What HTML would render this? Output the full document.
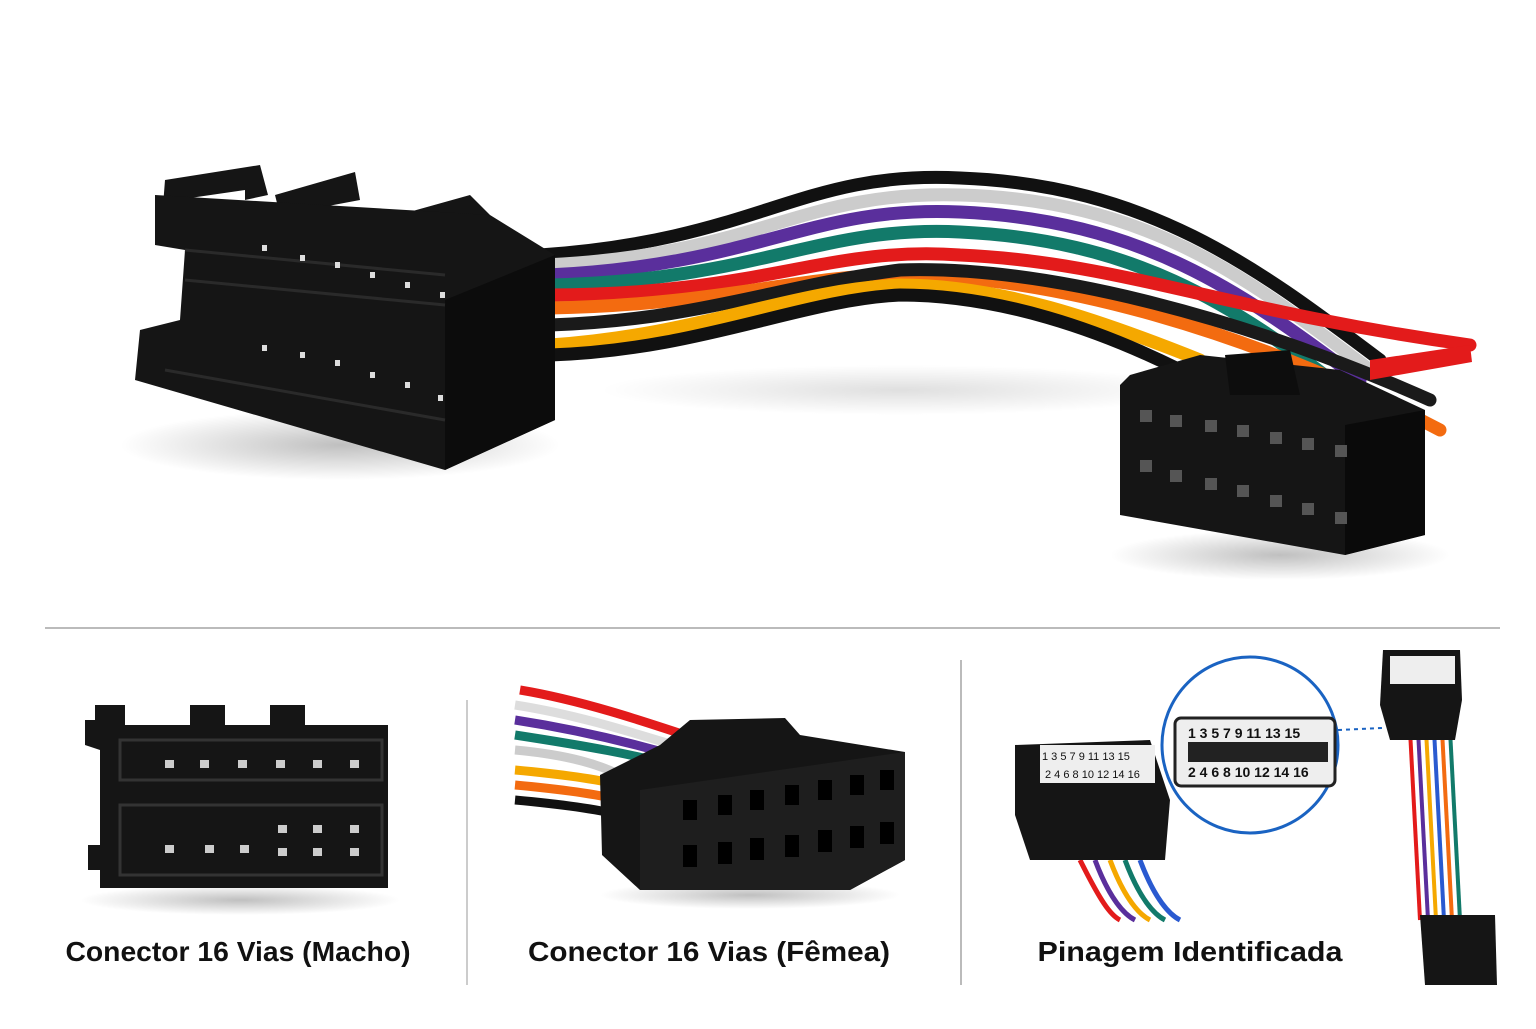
<!DOCTYPE html>
<html><head><meta charset="utf-8"><style>
html,body{margin:0;padding:0;background:#fff}
body{width:1536px;height:1024px;overflow:hidden;font-family:"Liberation Sans",sans-serif}
</style></head><body>
<svg width="1536" height="1024" viewBox="0 0 1536 1024" xmlns="http://www.w3.org/2000/svg">
<rect width="1536" height="1024" fill="#fff"/>
<defs>
<radialGradient id="sh" cx="50%" cy="50%" r="50%"><stop offset="0" stop-color="#000" stop-opacity=".25"/><stop offset="1" stop-color="#000" stop-opacity="0"/></radialGradient>
</defs>
<ellipse cx="340" cy="445" rx="220" ry="35" fill="url(#sh)"/>
<ellipse cx="1280" cy="555" rx="170" ry="25" fill="url(#sh)"/>
<ellipse cx="900" cy="390" rx="300" ry="25" fill="url(#sh)" opacity=".5"/>
<g fill="none" stroke-width="13" stroke-linecap="round">
<path d="M540 255 C760 240 800 170 960 178 C1150 185 1260 270 1380 360" stroke="#111"/>
<path d="M545 265 C760 255 800 190 960 195 C1150 200 1250 280 1370 370" stroke="#ccc"/>
<path d="M548 275 C760 265 810 205 960 212 C1140 220 1240 290 1360 380" stroke="#5a2f9c"/>
<path d="M550 285 C760 280 820 225 960 232 C1130 240 1230 300 1350 395" stroke="#127a6a"/>
<path d="M550 295 C760 295 830 245 960 255 C1120 262 1220 310 1470 345" stroke="#e31b1b"/>
<path d="M550 308 C720 305 800 275 900 275 C1050 275 1250 330 1440 430" stroke="#f36b10"/>
<path d="M550 325 C700 320 780 285 900 270 C1050 265 1250 320 1430 400" stroke="#1a1a1a"/>
<path d="M550 345 C700 335 790 290 900 285 C1000 285 1100 320 1200 360" stroke="#f5a800"/>
<path d="M550 355 C700 350 800 300 900 295 C1000 295 1100 330 1180 370" stroke="#111"/>
</g>
<path d="M1370 360 L1470 345 L1472 362 L1370 380Z" fill="#e31b1b"/>
<g fill="#151515">
<path d="M165 180 L260 165 L268 195 L245 200 L245 190 L190 198 L185 240 L160 245Z"/>
<path d="M275 195 L355 172 L360 200 L280 215Z"/>
<path d="M345 230 L470 195 L490 215 L490 240 L350 255Z"/>
<path d="M155 195 L490 215 L555 255 L555 420 L445 470 L135 380 L140 330 L180 320 L185 250 L155 245Z"/>
<path d="M445 300 L555 255 L555 420 L445 470Z" fill="#0c0c0c"/>
</g>
<g stroke="#2a2a2a" stroke-width="3" fill="none"><path d="M185 280 L445 305"/><path d="M185 250 L445 275"/><path d="M165 370 L445 420"/></g>
<g fill="#ddd">
<rect x="262" y="245" width="5" height="6"/><rect x="300" y="255" width="5" height="6"/><rect x="335" y="262" width="5" height="6"/><rect x="370" y="272" width="5" height="6"/><rect x="405" y="282" width="5" height="6"/><rect x="440" y="292" width="5" height="6"/>
<rect x="262" y="345" width="5" height="6"/><rect x="300" y="352" width="5" height="6"/><rect x="335" y="360" width="5" height="6"/><rect x="370" y="372" width="5" height="6"/><rect x="405" y="382" width="5" height="6"/><rect x="438" y="395" width="5" height="6"/>
</g>
<g fill="#151515">
<path d="M1130 375 L1200 355 L1340 370 L1425 410 L1425 535 L1345 555 L1120 515 L1120 385Z"/>
<path d="M1225 355 L1290 350 L1300 395 L1230 395Z" fill="#0d0d0d"/>
<path d="M1345 425 L1425 410 L1425 535 L1345 555Z" fill="#0a0a0a"/>
</g>
<g fill="#555">
<rect x="1140" y="410" width="12" height="12"/><rect x="1170" y="415" width="12" height="12"/><rect x="1205" y="420" width="12" height="12"/><rect x="1237" y="425" width="12" height="12"/><rect x="1270" y="432" width="12" height="12"/><rect x="1302" y="438" width="12" height="12"/><rect x="1335" y="445" width="12" height="12"/>
<rect x="1140" y="460" width="12" height="12"/><rect x="1170" y="470" width="12" height="12"/><rect x="1205" y="478" width="12" height="12"/><rect x="1237" y="485" width="12" height="12"/><rect x="1270" y="495" width="12" height="12"/><rect x="1302" y="503" width="12" height="12"/><rect x="1335" y="512" width="12" height="12"/>
</g>
<line x1="45" y1="628" x2="1500" y2="628" stroke="#bbb" stroke-width="2"/>
<line x1="467" y1="700" x2="467" y2="985" stroke="#ccc" stroke-width="2"/>
<line x1="961" y1="660" x2="961" y2="985" stroke="#bbb" stroke-width="2"/>
<ellipse cx="240" cy="900" rx="160" ry="15" fill="url(#sh)"/>
<g fill="#151515">
<path d="M95 705 L125 705 L125 725 L190 725 L190 705 L225 705 L225 725 L270 725 L270 705 L305 705 L305 725 L388 725 L388 888 L100 888 L100 870 L88 870 L88 845 L100 845 L100 750 L85 745 L85 720 L95 720Z"/>
</g>
<g stroke="#333" stroke-width="3" fill="none"><rect x="120" y="740" width="262" height="40"/><rect x="120" y="805" width="262" height="70"/></g>
<g fill="#ccc">
<rect x="165" y="760" width="9" height="8"/><rect x="200" y="760" width="9" height="8"/><rect x="238" y="760" width="9" height="8"/><rect x="276" y="760" width="9" height="8"/><rect x="313" y="760" width="9" height="8"/><rect x="350" y="760" width="9" height="8"/>
<rect x="165" y="845" width="9" height="8"/><rect x="205" y="845" width="9" height="8"/><rect x="240" y="845" width="9" height="8"/><rect x="278" y="825" width="9" height="8"/><rect x="313" y="825" width="9" height="8"/><rect x="350" y="825" width="9" height="8"/>
<rect x="278" y="848" width="9" height="8"/><rect x="313" y="848" width="9" height="8"/><rect x="350" y="848" width="9" height="8"/>
</g>
<g fill="none" stroke-width="9">
<path d="M520 690 C580 700 640 720 700 740" stroke="#e31b1b"/>
<path d="M515 705 C580 715 640 735 690 750" stroke="#ddd"/>
<path d="M515 720 C580 730 640 745 690 760" stroke="#5a2f9c"/>
<path d="M515 735 C580 745 640 755 690 770" stroke="#127a6a"/>
<path d="M515 750 C570 755 600 765 620 775" stroke="#ccc"/>
<path d="M515 770 C570 775 600 780 620 785" stroke="#f5a800"/>
<path d="M515 785 C570 790 600 795 620 800" stroke="#f36b10"/>
<path d="M515 800 C570 805 600 810 620 815" stroke="#111"/>
</g>
<ellipse cx="750" cy="895" rx="150" ry="14" fill="url(#sh)"/>
<g fill="#151515">
<path d="M600 775 L660 745 L690 720 L785 718 L800 735 L905 752 L905 860 L850 890 L640 890 L602 855Z"/>
<path d="M640 790 L905 752 L905 860 L850 890 L640 890Z" fill="#1e1e1e"/>
</g>
<g fill="#000">
<rect x="683" y="800" width="14" height="20"/><rect x="718" y="795" width="14" height="20"/><rect x="750" y="790" width="14" height="20"/><rect x="785" y="785" width="14" height="20"/><rect x="818" y="780" width="14" height="20"/><rect x="850" y="775" width="14" height="20"/><rect x="880" y="770" width="14" height="20"/>
<rect x="683" y="845" width="14" height="22"/><rect x="718" y="842" width="14" height="22"/><rect x="750" y="838" width="14" height="22"/><rect x="785" y="835" width="14" height="22"/><rect x="818" y="830" width="14" height="22"/><rect x="850" y="826" width="14" height="22"/><rect x="880" y="822" width="14" height="22"/>
</g>
<g fill="none" stroke-width="5">
<path d="M1080 860 C1100 900 1110 915 1120 920" stroke="#e31b1b"/>
<path d="M1095 860 C1110 900 1125 915 1135 920" stroke="#5a2f9c"/>
<path d="M1110 860 C1125 900 1140 915 1150 920" stroke="#f5a800"/>
<path d="M1125 860 C1140 900 1155 915 1165 920" stroke="#127a6a"/>
<path d="M1140 860 C1155 900 1170 915 1180 920" stroke="#2a5ad0"/>
</g>
<path d="M1015 745 L1150 740 L1170 800 L1165 860 L1030 860 L1020 830 L1015 815Z" fill="#151515"/>
<rect x="1040" y="745" width="115" height="38" fill="#eee"/>
<text x="1042" y="760" font-size="11" fill="#111">1 3 5 7 9 11 13 15</text>
<text x="1045" y="778" font-size="11" fill="#111">2 4 6 8 10 12 14 16</text>
<circle cx="1250" cy="745" r="88" fill="#fff" stroke="#1a63c2" stroke-width="3"/>
<rect x="1175" y="718" width="160" height="68" rx="6" fill="#eee" stroke="#222" stroke-width="3"/>
<text x="1188" y="738" font-size="14" font-weight="bold" fill="#111">1 3 5 7 9 11 13 15</text>
<g fill="#222"><rect x="1188" y="742" width="140" height="20"/></g>
<text x="1188" y="777" font-size="14" font-weight="bold" fill="#111">2 4 6 8 10 12 14 16</text>
<line x1="1338" y1="730" x2="1382" y2="728" stroke="#1a63c2" stroke-width="2" stroke-dasharray="4 4"/>
<g fill="none" stroke-width="4">
<path d="M1410 730 L1420 920" stroke="#e31b1b"/><path d="M1418 730 L1428 920" stroke="#5a2f9c"/><path d="M1426 730 L1436 920" stroke="#f5a800"/><path d="M1434 730 L1444 920" stroke="#2a5ad0"/><path d="M1442 730 L1452 920" stroke="#f36b10"/><path d="M1450 730 L1460 920" stroke="#127a6a"/>
</g>
<path d="M1383 650 L1460 650 L1462 700 L1455 740 L1390 740 L1380 705Z" fill="#151515"/>
<rect x="1390" y="656" width="65" height="28" fill="#eee"/>
<path d="M1420 915 L1495 915 L1497 985 L1425 985Z" fill="#151515"/>
<g font-family="Liberation Sans,sans-serif" font-size="28" font-weight="bold" fill="#111" text-anchor="middle">
<text x="238" y="961" textLength="345" lengthAdjust="spacingAndGlyphs">Conector 16 Vias (Macho)</text>
<text x="709" y="961" textLength="362" lengthAdjust="spacingAndGlyphs">Conector 16 Vias (Fêmea)</text>
<text x="1190" y="961" textLength="305" lengthAdjust="spacingAndGlyphs">Pinagem Identificada</text>
</g>
</svg>
</body></html>
